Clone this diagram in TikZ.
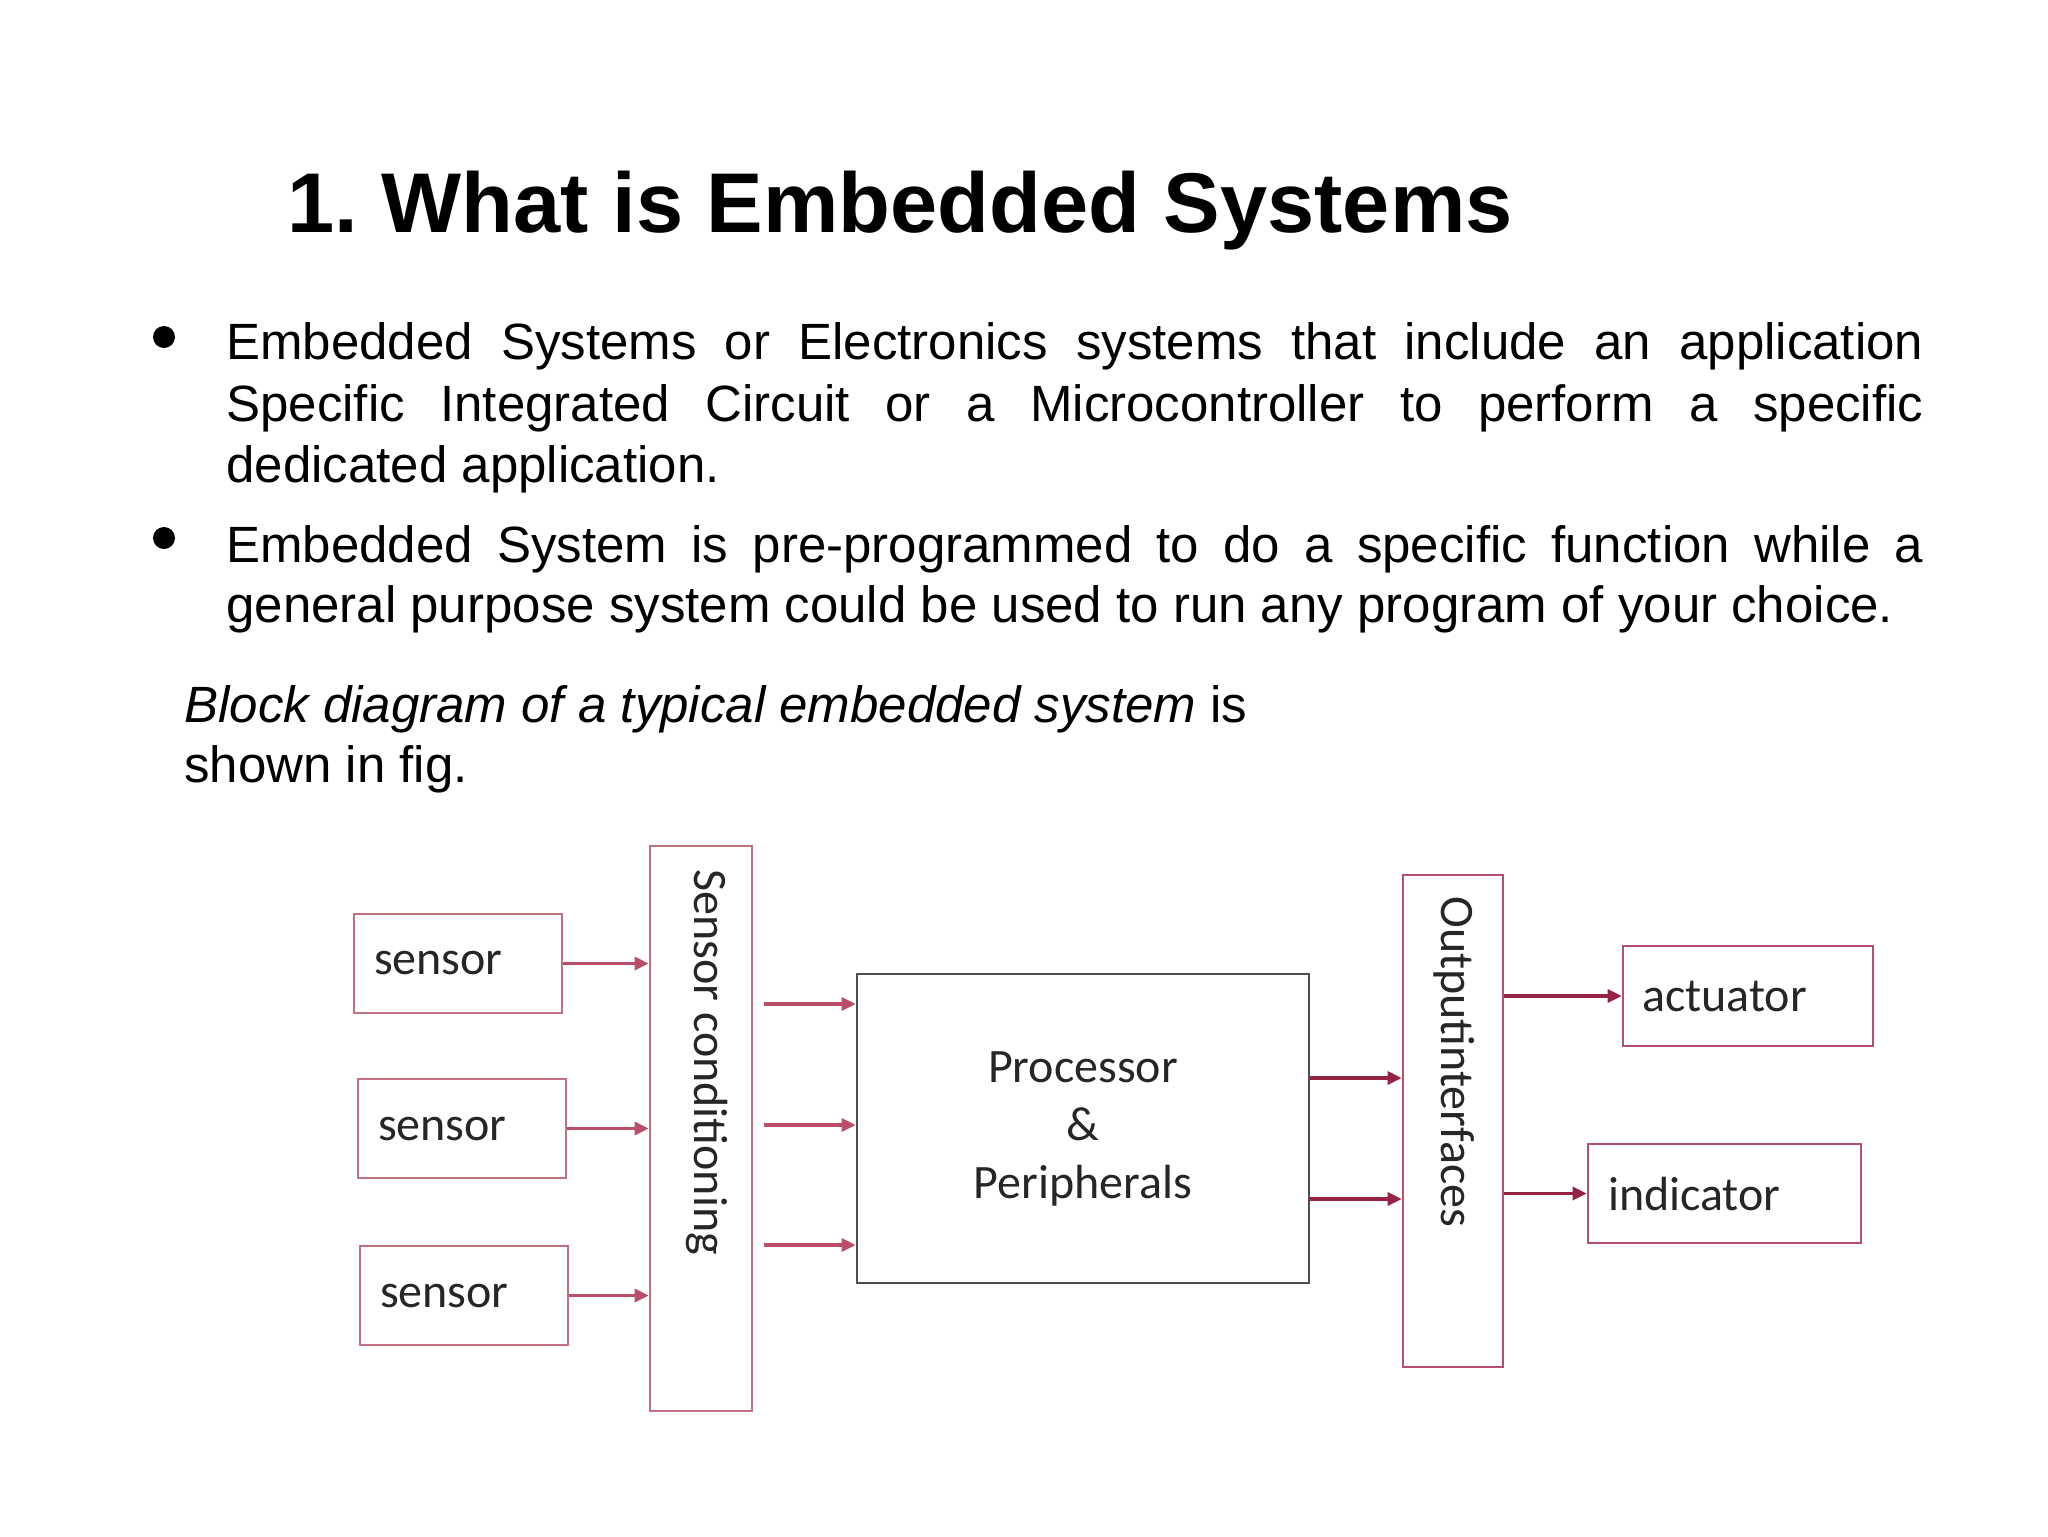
\documentclass[tikz,border=0pt]{standalone}
\usepackage{fontspec}
\setmainfont{Liberation Sans}
\newfontfamily\calibfont{Carlito}
\usetikzlibrary{arrows.meta}
\definecolor{boxred}{RGB}{196,112,128}
\definecolor{oired}{RGB}{180,80,108}
\definecolor{arrred}{RGB}{150,34,68}
\definecolor{arrlight}{RGB}{186,78,104}
\definecolor{procgray}{RGB}{78,78,78}
\definecolor{dtext}{RGB}{38,38,38}
\frenchspacing
\begin{document}
\begin{tikzpicture}[x=0.5pt,y=-0.5pt,
  titlestyle/.style={anchor=base west, inner sep=0pt, font=\fontsize{42.4}{50}\selectfont\bfseries},
  bodystyle/.style={anchor=base west, inner sep=0pt, font=\fontsize{25.5}{30}\selectfont},
  dotstyle/.style={circle, fill=black, minimum size=11pt, inner sep=0pt},
  blk/.style={draw=boxred, line width=1.3pt, fill=white, inner sep=0pt,
    font=\calibfont\fontsize{24}{29}\selectfont, text=dtext},
  vlabel/.style={rotate=-90, anchor=west, inner sep=0pt,
    font=\calibfont\fontsize{24}{29}\selectfont, text=dtext},
  arr/.style={draw=arrred, line width=1.6pt, -{Triangle[length=7pt,width=6.5pt]}},
  arrl/.style={arr, draw=arrlight}]
\useasboundingbox (0,0) rectangle (2048,1536);

% title
\node[titlestyle] (title) at (287,232) {1. What is Embedded Systems};

% bullets
\node[dotstyle] (d1) at (164,337) {};
\node[bodystyle] (b1a) at (226,359) {\makebox[848.5pt][s]{Embedded Systems or Electronics systems that include an application}};
\node[bodystyle] (b1b) at (226,421) {\makebox[848.5pt][s]{Specific Integrated Circuit or a Microcontroller to perform a specific}};
\node[bodystyle] (b1c) at (226,482) {dedicated application.};
\node[dotstyle] (d2) at (164,538) {};
\node[bodystyle] (b2a) at (226,562) {\makebox[848.5pt][s]{Embedded System is pre-programmed to do a specific function while a}};
\node[bodystyle] (b2b) at (226,622) {general purpose system could be used to run any program of your choice.};

\node[bodystyle] (bd1) at (184,722) {\textit{Block diagram of a typical embedded system} is};
\node[bodystyle] (bd2) at (184,782) {shown in fig.};

% diagram boxes
\node[blk, minimum width=104pt, minimum height=49.5pt, text width=84pt, align=left] (s1) at (458,963.5) {sensor};
\node[blk, minimum width=104pt, minimum height=49.5pt, text width=84pt, align=left] (s2) at (462,1128.5) {sensor};
\node[blk, minimum width=104pt, minimum height=49.5pt, text width=84pt, align=left] (s3) at (464,1295.5) {sensor};

\node[blk, minimum width=51pt, minimum height=282.5pt] (sc) at (701,1128.5) {};
\node[vlabel] (sct) at (707,869) {Sensor conditioning};

\node[blk, draw=procgray, minimum width=226pt, minimum height=154.5pt, align=center] (proc) at (1083,1128.5) {Processor\\\&\\Peripherals};

\node[blk, draw=oired, minimum width=50pt, minimum height=246pt] (oi) at (1453,1121) {};
\node[vlabel] (oit) at (1454,896) {Outputinterfaces};

\node[blk, draw=oired, minimum width=125pt, minimum height=50pt, text width=106pt, align=left] (act) at (1748,996) {actuator};
\node[blk, draw=oired, minimum width=136.5pt, minimum height=49.5pt, text width=116.5pt, align=left] (ind) at (1724.5,1193.5) {indicator};

% connectors
\draw[arrl] (s1.east) -- (s1.east -| sc.west);
\draw[arrl] (s2.east) -- (s2.east -| sc.west);
\draw[arrl] (s3.east) -- (s3.east -| sc.west);

\coordinate (r1) at (0,1004);
\coordinate (r2) at (0,1125);
\coordinate (r3) at (0,1245);
\coordinate (r4) at (0,1078);
\coordinate (r5) at (0,1199);
\draw[arrl, shorten <=5.5pt] (sc.east |- r1) -- (proc.west |- r1);
\draw[arrl, shorten <=5.5pt] (sc.east |- r2) -- (proc.west |- r2);
\draw[arrl, shorten <=5.5pt] (sc.east |- r3) -- (proc.west |- r3);
\draw[arr] (proc.east |- r4) -- (oi.west |- r4);
\draw[arr] (proc.east |- r5) -- (oi.west |- r5);
\draw[arr] (oi.east |- act.west) -- (act.west);
\draw[arr] (oi.east |- ind.west) -- (ind.west);
\end{tikzpicture}
\end{document}
